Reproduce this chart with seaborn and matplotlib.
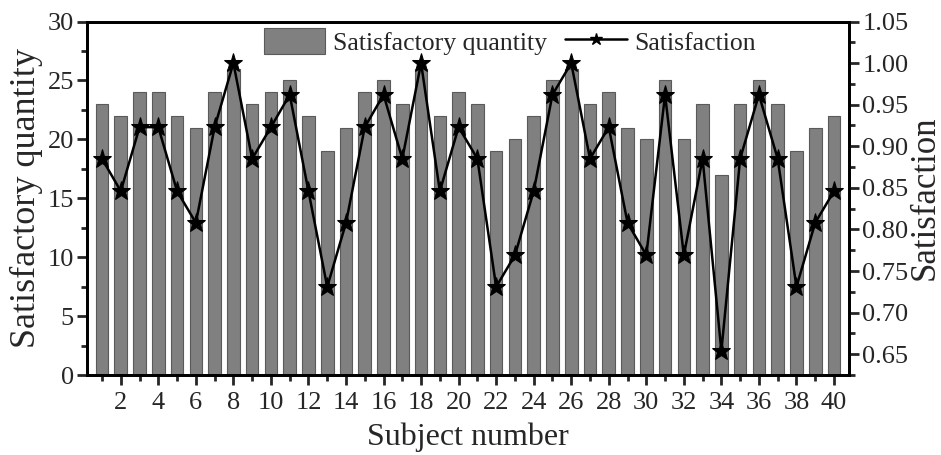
import matplotlib
matplotlib.use("Agg")
import matplotlib.pyplot as plt
import seaborn as sns
import numpy as np
from matplotlib.ticker import MultipleLocator, FormatStrFormatter
from matplotlib.patches import Patch
from matplotlib.lines import Line2D

subjects = list(range(1, 41))
quantity = [23, 22, 24, 24, 22, 21, 24, 26, 23, 24,
            25, 22, 19, 21, 24, 25, 23, 26, 22, 24,
            23, 19, 20, 22, 25, 26, 23, 24, 21, 20,
            25, 20, 23, 17, 23, 25, 23, 19, 21, 22]
satisfaction = [0.885, 0.846, 0.923, 0.923, 0.846, 0.808, 0.923, 1.000, 0.885, 0.923,
                0.962, 0.846, 0.731, 0.808, 0.923, 0.962, 0.885, 1.000, 0.846, 0.923,
                0.885, 0.731, 0.769, 0.846, 0.962, 1.000, 0.885, 0.923, 0.808, 0.769,
                0.962, 0.769, 0.885, 0.654, 0.885, 0.962, 0.885, 0.731, 0.808, 0.846]

sns.set_style("ticks")
plt.rcParams['font.family'] = ['Liberation Serif', 'DejaVu Serif']

fig = plt.figure(figsize=(9.41, 4.55), dpi=100)
ax = fig.add_axes([87/941, 1 - 375/455, (849-87)/941, (375-21.5)/455])

sns.barplot(x=subjects, y=quantity, native_scale=True, width=0.67,
            color="#808080", saturation=1, edgecolor="#5a5a5a", linewidth=0.8, ax=ax)
ax.set_xlim(0.2, 40.8)
ax.set_ylim(0, 30)
ax.yaxis.set_major_locator(MultipleLocator(5))
ax.yaxis.set_minor_locator(MultipleLocator(2.5))
ax.set_xticks(range(2, 41, 2))
ax.xaxis.set_minor_locator(MultipleLocator(1))

ax2 = ax.twinx()
sns.lineplot(x=subjects, y=satisfaction, ax=ax2, color="black", linewidth=1.8,
             marker="*", markersize=14, markeredgecolor="black", markerfacecolor="black")
ax2.set_ylim(0.625, 1.05)
ax2.yaxis.set_major_locator(MultipleLocator(0.05))
ax2.yaxis.set_minor_locator(MultipleLocator(0.025))
ax2.yaxis.set_major_formatter(FormatStrFormatter('%.2f'))

for a in (ax, ax2):
    for s in a.spines.values():
        s.set_visible(True)
        s.set_linewidth(2)
        s.set_color("black")
    a.tick_params(which="major", direction="out", length=7.5, width=2, labelsize=19, pad=2)
    a.tick_params(which="minor", direction="out", length=4, width=2)
ax.tick_params(axis="x", which="major", pad=5)

ax.set_xlabel("Subject number", fontsize=23, labelpad=6)
ax.set_ylabel("Satisfactory quantity", fontsize=26, labelpad=3)
ax2.set_ylabel("Satisfaction", fontsize=25, labelpad=0)

handles = [Patch(facecolor="#808080", edgecolor="#5a5a5a", linewidth=0.8),
           Line2D([0], [0], color="black", linewidth=1.8, marker="*", markersize=9)]
ax2.legend(handles, ["Satisfactory quantity", "Satisfaction"], loc="upper center",
           bbox_to_anchor=(0.555, 0.995), borderaxespad=0.1, borderpad=0.1,
           ncol=2, frameon=False, fontsize=18.5,
           handlelength=2.4, handleheight=1.15, columnspacing=0.7, handletextpad=0.3)

fig.savefig("out.png", dpi=100)
